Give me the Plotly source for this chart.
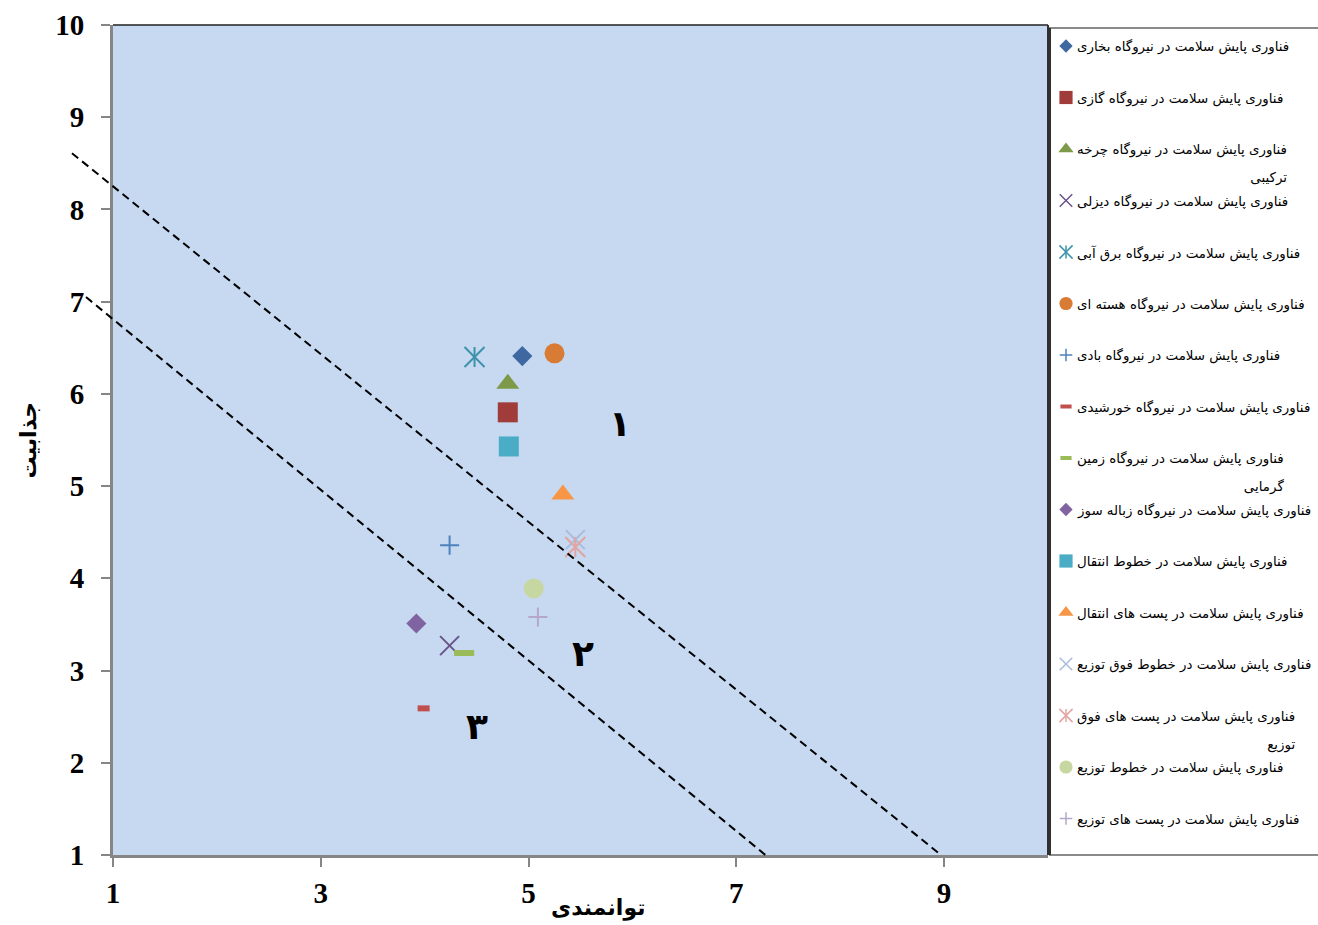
import plotly.graph_objects as go

# ---------------------------------------------------------------- data
series_names = [
    "فناوری پایش سلامت در نیروگاه بخاری",
    "فناوری پایش سلامت در نیروگاه گازی",
    "فناوری پایش سلامت در نیروگاه چرخه ترکیبی",
    "فناوری پایش سلامت در نیروگاه دیزلی",
    "فناوری پایش سلامت در نیروگاه برق آبی",
    "فناوری پایش سلامت در نیروگاه هسته ای",
    "فناوری پایش سلامت در نیروگاه بادی",
    "فناوری پایش سلامت در نیروگاه خورشیدی",
    "فناوری پایش سلامت در نیروگاه زمین گرمایی",
    "فناوری پایش سلامت در نیروگاه زباله سوز",
    "فناوری پایش سلامت در خطوط انتقال",
    "فناوری پایش سلامت در پست های انتقال",
    "فناوری پایش سلامت در خطوط فوق توزیع",
    "فناوری پایش سلامت در پست های فوق توزیع",
    "فناوری پایش سلامت در خطوط توزیع",
    "فناوری پایش سلامت در پست های توزیع",
]
# last word that wraps onto a second legend line
legend_wrap = ["", "", "ترکیبی", "", "", "", "", "", "گرمایی", "", "", "", "", "توزیع", "", ""]

capability = [4.94, 4.80, 4.80, 4.24, 4.48, 5.25, 4.24, 3.99, 4.38, 3.92,
              4.81, 5.33, 5.45, 5.45, 5.05, 5.09]
attractiveness = [6.41, 5.80, 6.11, 3.27, 6.40, 6.44, 4.36, 2.59, 3.19, 3.51,
                  5.43, 4.91, 4.42, 4.34, 3.89, 3.58]

# zone boundaries (dashed) and zone numbers
boundary_x = [[0.605, 8.97], [0.74, 7.28]]
boundary_y = [[8.61, 1.0], [7.05, 1.0]]
zone_labels = ["۱", "۲", "۳"]
zone_x = [5.88, 5.52, 4.50]
zone_y = [5.68, 3.19, 2.39]

x_ticks = [1, 3, 5, 7, 9]
y_ticks = [1, 2, 3, 4, 5, 6, 7, 8, 9, 10]
x_title = "توانمندی"
y_title = "جذابیت"

# ---------------------------------------------------------------- styles
symbols = ["diamond", "square", "triangle-up", "x-thin-open", "star6", "circle",
           "cross-thin-open", "line-ew-open", "line-ew-open", "diamond", "square",
           "triangle-up", "x-thin-open", "star6", "circle", "cross-thin-open"]
colors = ["#3F68A0", "#A03D3B", "#7E9A48", "#6A5488", "#3C93A9", "#D87B35",
          "#4F81BD", "#C0504D", "#9BBB59", "#8064A2", "#4BACC6", "#F79646",
          "#A9BCDB", "#E2A4A2", "#C7D7A1", "#B5A7C9"]
sizes = [15.5, 20, 20, 19, 20, 20, 13.6, 8.6, 14.3, 15.5, 20, 20, 19, 20, 20, 13.6]
line_widths = [0, 0, 0, 2, 2, 0, 2, 6, 6, 0, 0, 0, 2, 2, 0, 2]

W, H = 1318, 925
PL, PR, PT, PB = 113, 1048, 25, 855          # plot area in pixels
LEG_L = 1050                                 # legend box left edge
X_RANGE = [1, 10]
Y_RANGE = [1, 10]
X_DOM = (PR - PL) / (W - PL)
PLOT_BG = "#C6D9F1"


def px_x(px):
    return (px - PL) / (W - PL)


def px_y(py):
    return (PB - py) / (PB - PT)


def data_to_paper(x, y):
    fx = (x - X_RANGE[0]) / (X_RANGE[1] - X_RANGE[0]) * X_DOM
    fy = (y - Y_RANGE[0]) / (Y_RANGE[1] - Y_RANGE[0])
    return fx, fy


fig = go.Figure()


def add_marker(xs, ys, sym, color, size, lw, xaxis="x", yaxis="y"):
    """Add one series; the six-armed star is an X with a vertical bar."""
    parts = [("x-thin-open", size), ("line-ns-open", size / 1.4)] if sym == "star6" else [(sym, size)]
    for s, sz in parts:
        fig.add_trace(go.Scatter(
            x=xs, y=ys, mode="markers", xaxis=xaxis, yaxis=yaxis,
            showlegend=False, hoverinfo="skip", cliponaxis=False,
            marker=dict(symbol=s, size=sz, color=color,
                        line=dict(width=lw, color=color)),
        ))


# scatter points on the main grid
for i in range(len(series_names)):
    add_marker([capability[i]], [attractiveness[i]], symbols[i], colors[i],
               sizes[i], line_widths[i])

# legend column: markers on a hidden axis, one row per series
LEG_STEP = 51.5
LEG_FIRST = 46
LEG_SCALE = 0.66
for i in range(len(series_names)):
    lw = line_widths[i]
    if symbols[i] == "line-ew-open":
        lw = 4
    elif lw:
        lw = 1.5
    add_marker([16], [i], symbols[i], colors[i], sizes[i] * LEG_SCALE
               if symbols[i] != "line-ew-open" else 8, lw, xaxis="x2", yaxis="y2")

annotations = []
for i, name in enumerate(series_names):
    w = legend_wrap[i]
    label = (name[: -len(w)].rstrip() + "<br>" + w) if w else name
    annotations.append(dict(
        x=25, y=i, xref="x2", yref="y2", xanchor="left", yanchor="top",
        yshift=9, align="right", showarrow=False,
        text="<span style='font-size:13.4px'>" + label + "</span>",
        font=dict(family="DejaVu Sans", size=21.5, color="black"),
    ))

for lab, zx, zy in zip(zone_labels, zone_x, zone_y):
    annotations.append(dict(
        x=zx, y=zy, xref="x", yref="y", text=lab, showarrow=False,
        font=dict(family="DejaVu Sans", size=36, color="black", weight="bold"),
    ))

annotations.append(dict(
    x=px_x(598), y=px_y(923), xref="paper", yref="paper", text=x_title,
    showarrow=False, font=dict(family="DejaVu Sans", size=22, color="black", weight="bold"),
))
annotations.append(dict(
    x=px_x(13), y=px_y(440), xref="paper", yref="paper", text=y_title,
    textangle=-90, showarrow=False,
    font=dict(family="DejaVu Sans", size=22, color="black", weight="bold"),
))

# plot-area fill (kept as a shape so the legend column stays white)
shapes = [dict(type="rect", xref="paper", yref="paper", x0=0, x1=X_DOM, y0=0, y1=1,
               fillcolor=PLOT_BG, line=dict(width=0), layer="below")]
for bx, by in zip(boundary_x, boundary_y):
    x0, y0 = data_to_paper(bx[0], by[0])
    x1, y1 = data_to_paper(bx[1], by[1])
    shapes.append(dict(type="line", xref="paper", yref="paper", x0=x0, y0=y0,
                       x1=x1, y1=y1, line=dict(color="black", width=2, dash="8px,5px")))

# frame: thin dark top and right edges of the plot area
shapes.append(dict(type="line", xref="paper", yref="paper", x0=0, x1=X_DOM, y0=1, y1=1,
                   line=dict(color="#202020", width=1.5)))
shapes.append(dict(type="line", xref="paper", yref="paper", x0=X_DOM, x1=X_DOM, y0=0, y1=1,
                   line=dict(color="#303030", width=2)))
# legend box
shapes.append(dict(type="rect", xref="paper", yref="paper", x0=px_x(LEG_L), x1=1.02,
                   y0=0, y1=px_y(28), line=dict(color="#8a8a8a", width=2)))
shapes.append(dict(type="line", xref="paper", yref="paper", x0=px_x(LEG_L), x1=px_x(LEG_L),
                   y0=0, y1=px_y(28), line=dict(color="#303030", width=2)))

tick_font = dict(family="Liberation Serif", size=29, color="black", weight="bold")
axis_common = dict(showline=True, linecolor="#868686", linewidth=3, ticks="outside",
                   ticklen=9, tickwidth=2, tickcolor="#868686", showgrid=False,
                   zeroline=False, tickfont=tick_font, fixedrange=True)

leg_top = (28 - LEG_FIRST) / LEG_STEP
leg_bottom = (PB - LEG_FIRST) / LEG_STEP

fig.update_layout(
    width=W, height=H,
    margin=dict(l=PL, r=0, t=PT, b=H - PB, pad=0),
    plot_bgcolor="white", paper_bgcolor="white",
    showlegend=False,
    xaxis=dict(range=X_RANGE, tickvals=x_ticks, domain=[0, X_DOM], anchor="y",
               ticklabelstandoff=1, **axis_common),
    yaxis=dict(range=Y_RANGE, tickvals=y_ticks, domain=[0, 1], anchor="x",
               ticklabelstandoff=11, **axis_common),
    xaxis2=dict(range=[0, W - LEG_L], domain=[px_x(LEG_L), 1], anchor="y2", visible=False,
                fixedrange=True),
    yaxis2=dict(range=[leg_bottom, leg_top], domain=[0, px_y(28)], anchor="x2", visible=False,
                fixedrange=True),
    annotations=annotations,
    shapes=shapes,
)

fig.write_html("out.html")
